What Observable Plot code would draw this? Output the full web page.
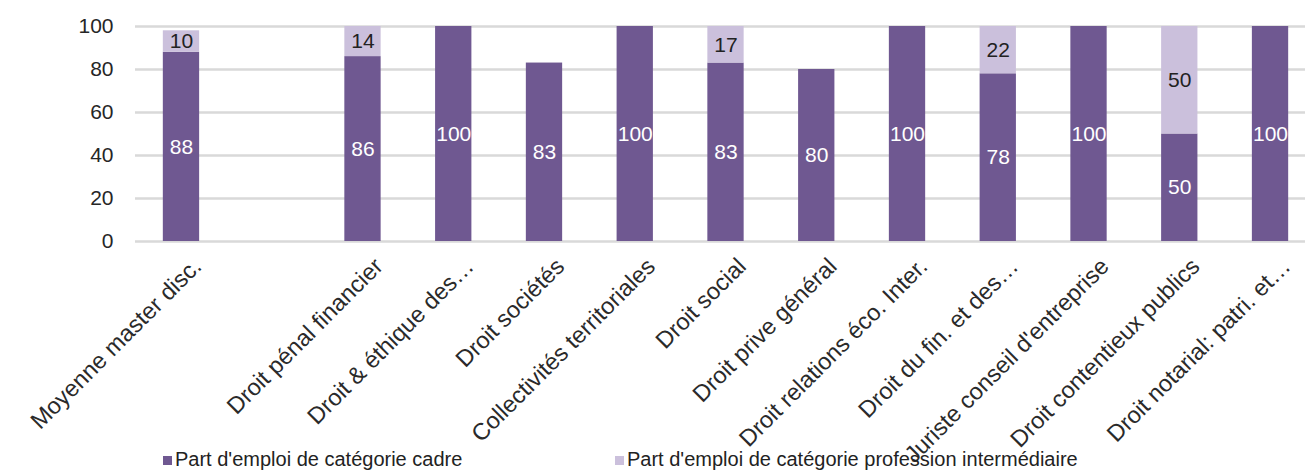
<!DOCTYPE html>
<html><head><meta charset="utf-8">
<script src="https://cdn.jsdelivr.net/npm/d3@7"></script>
<script src="https://cdn.jsdelivr.net/npm/@observablehq/plot@0.6"></script>
<style>
body{margin:0;background:#fff;font-family:"Liberation Sans",Arial,sans-serif;}
#wrap{position:relative;width:1305px;height:471px;overflow:hidden;background:#fff;}
.legend{position:absolute;top:448px;font-size:20px;color:#222;white-space:nowrap;line-height:22px;}
.sw{display:inline-block;width:9px;height:9px;margin-right:3px;vertical-align:1px;}
</style></head><body><div id="wrap"></div>
<script>
const categories = ["Moyenne master disc.", " ", "Droit pénal financier", "Droit & éthique des…", "Droit sociétés", "Collectivités territoriales", "Droit social", "Droit prive général", "Droit relations éco. Inter.", "Droit du fin. et des…", "Juriste conseil d'entreprise", "Droit contentieux publics", "Droit notarial: patri. et…"];
const cadre = [88, null, 86, 100, 83, 100, 83, 80, 100, 78, 100, 50, 100];
const intermediaire = [10, null, 14, null, null, null, 17, null, null, 22, null, 50, null];
const seriesNames = ["Part d'emploi de catégorie cadre", "Part d'emploi de catégorie profession intermédiaire"];
const yTicks = [0, 20, 40, 60, 80, 100];
const colors = ["#6f5891", "#cbc0dc"];

const rows = [];
categories.forEach((c, i) => {
  if (cadre[i] != null) rows.push({cat: c, series: seriesNames[0], value: cadre[i]});
  if (intermediaire[i] != null) rows.push({cat: c, series: seriesNames[1], value: intermediaire[i]});
});

const plot = Plot.plot({
  width: 1305,
  height: 471,
  marginTop: 26,
  marginBottom: 230,
  marginLeft: 135,
  marginRight: 0,
  style: {fontFamily: "'Liberation Sans', Arial, sans-serif", background: "transparent", overflow: "visible"},
  x: {domain: categories, range: [135.6, 1315.4], paddingInner: 0.6, paddingOuter: 0.3, round: false, label: null},
  y: {domain: [0, 100], label: null},
  color: {domain: seriesNames, range: colors},
  marks: [
    Plot.ruleY(yTicks, {stroke: "#d9d9d9", strokeWidth: 2.5}),
    Plot.barY(rows, {x: "cat", y: "value", fill: "series", order: seriesNames}),
    Plot.text(rows.filter(d => d.series === seriesNames[0]), Plot.stackY({x: "cat", y: "value", text: d => String(d.value), fill: "white", fontSize: 21})),
    Plot.text(rows, Plot.stackY({x: "cat", y: "value", z: "series", order: seriesNames, text: d => d.series === seriesNames[1] ? String(d.value) : "", fill: "#222", fontSize: 21})),
    Plot.axisY({ticks: yTicks, tickSize: 0, tickPadding: 22, fontSize: 21, color: "#262626"}),
    Plot.axisX({tickSize: 0, tickRotate: -45, tickPadding: 8, fontSize: 23.5, dx: 16, dy: 13, color: "#2a2a2a"})
  ]
});
const wrap = document.getElementById("wrap");
wrap.appendChild(plot);

const leg = [[163, 0], [615, 1]];
leg.forEach(([left, k]) => {
  const d = document.createElement("div");
  d.className = "legend";
  d.style.left = left + "px";
  const s = document.createElement("span");
  s.className = "sw";
  s.style.background = colors[k];
  d.appendChild(s);
  d.appendChild(document.createTextNode(seriesNames[k]));
  wrap.appendChild(d);
});
</script></body></html>
